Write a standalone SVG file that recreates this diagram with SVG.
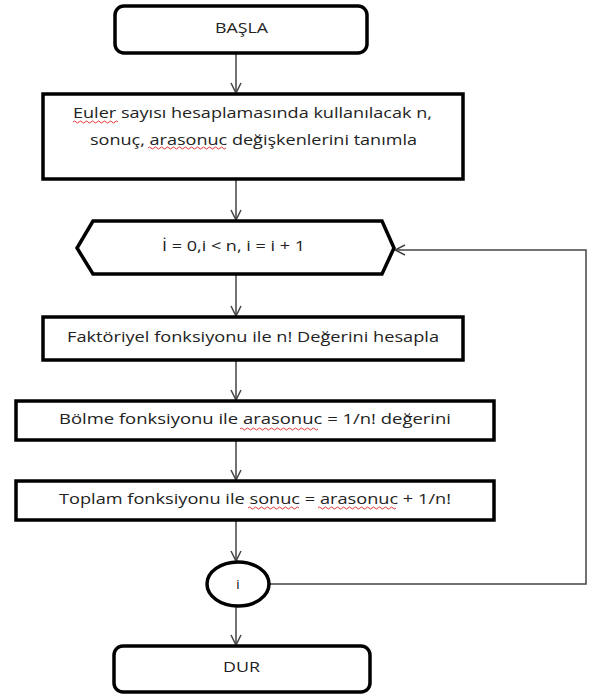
<svg xmlns="http://www.w3.org/2000/svg" width="590" height="695" viewBox="0 0 590 695">
<style>
.box{fill:#fff;stroke:#000;stroke-width:3.5}
.t{font-family:"Open Sans","Noto Sans","Liberation Sans",sans-serif;font-size:15px;fill:#222;text-anchor:middle}
.c{fill:none;stroke:#444;stroke-width:1.5}
.sq{fill:none;stroke:#e02020;stroke-width:0.9}
</style>
<defs>
<marker id="ah" markerWidth="12" markerHeight="12" refX="11" refY="6" orient="auto" markerUnits="userSpaceOnUse">
<path d="M1,1 L11,6 L1,11" fill="none" stroke="#444" stroke-width="1.5"/>
</marker>
</defs>
<rect width="590" height="695" fill="#fff"/>
<g id="connectors">
<line class="c" x1="236" y1="53" x2="236" y2="93" marker-end="url(#ah)"/>
<line class="c" x1="236" y1="180" x2="236" y2="220" marker-end="url(#ah)"/>
<line class="c" x1="236" y1="275" x2="236" y2="316" marker-end="url(#ah)"/>
<line class="c" x1="236" y1="361" x2="236" y2="400" marker-end="url(#ah)"/>
<line class="c" x1="236" y1="441" x2="236" y2="480" marker-end="url(#ah)"/>
<line class="c" x1="236" y1="521" x2="236" y2="561" marker-end="url(#ah)"/>
<line class="c" x1="236" y1="607" x2="236" y2="645" marker-end="url(#ah)"/>
<polyline class="c" points="270,584 586,584 586,250 395,250" marker-end="url(#ah)"/>
</g>
<g id="basla">
<rect class="box" x="115" y="6" width="252" height="47" rx="9"/>
<text class="t" x="241.5" y="33" textLength="53" lengthAdjust="spacingAndGlyphs">BAŞLA</text>
</g>
<g id="tanimla">
<rect class="box" x="43" y="94" width="420" height="85"/>
<text class="t" x="252.5" y="118" textLength="359" lengthAdjust="spacingAndGlyphs">Euler sayısı hesaplamasında kullanılacak n,</text>
<text class="t" x="253.5" y="145" textLength="327" lengthAdjust="spacingAndGlyphs">sonuç, arasonuc değişkenlerini tanımla</text>
<path class="sq" d="M73,122 q1.5,-2 3,0 t3,0 t3,0 t3,0 t3,0 t3,0 t3,0 t3,0 t3,0 t3,0 t3,0 t3,0 t3,0 t3,0 t3,0"/>
<path class="sq" d="M148,148 q1.5,-2 3,0 t3,0 t3,0 t3,0 t3,0 t3,0 t3,0 t3,0 t3,0 t3,0 t3,0 t3,0 t3,0 t3,0 t3,0 t3,0 t3,0 t3,0 t3,0 t3,0 t3,0 t3,0 t3,0 t3,0 t3,0 t3,0"/>
</g>
<g id="dongu">
<polygon class="box" points="93,221 382,221 394,248 382,274 93,274 77,248"/>
<text class="t" x="233.5" y="251" textLength="143" lengthAdjust="spacingAndGlyphs">İ = 0,i &lt; n, i = i + 1</text>
</g>
<g id="faktoriyel">
<rect class="box" x="43" y="317" width="420" height="43"/>
<text class="t" x="253" y="342" textLength="372" lengthAdjust="spacingAndGlyphs">Faktöriyel fonksiyonu ile n! Değerini hesapla</text>
</g>
<g id="bolme">
<rect class="box" x="16" y="401" width="478" height="39"/>
<text class="t" x="255" y="424" textLength="392" lengthAdjust="spacingAndGlyphs">Bölme fonksiyonu ile arasonuc  = 1/n! değerini</text>
<path class="sq" d="M240,429 q1.5,-2 3,0 t3,0 t3,0 t3,0 t3,0 t3,0 t3,0 t3,0 t3,0 t3,0 t3,0 t3,0 t3,0 t3,0 t3,0 t3,0 t3,0 t3,0 t3,0 t3,0 t3,0 t3,0 t3,0 t3,0 t3,0 t3,0"/>
</g>
<g id="toplam">
<rect class="box" x="16" y="481" width="478" height="39"/>
<text class="t" x="255" y="504" textLength="392" lengthAdjust="spacingAndGlyphs">Toplam fonksiyonu ile sonuc = arasonuc + 1/n!</text>
<path class="sq" d="M248,508 q1.5,-2 3,0 t3,0 t3,0 t3,0 t3,0 t3,0 t3,0 t3,0 t3,0 t3,0 t3,0 t3,0 t3,0 t3,0 t3,0 t3,0 t3,0"/>
<path class="sq" d="M318,508 q1.5,-2 3,0 t3,0 t3,0 t3,0 t3,0 t3,0 t3,0 t3,0 t3,0 t3,0 t3,0 t3,0 t3,0 t3,0 t3,0 t3,0 t3,0 t3,0 t3,0 t3,0 t3,0 t3,0 t3,0 t3,0 t3,0 t3,0"/>
</g>
<g id="i">
<ellipse class="box" cx="238" cy="584" rx="31" ry="22"/>
<text class="t" x="238" y="589" style="font-size:13px;fill:#000">i</text>
</g>
<g id="dur">
<rect class="box" x="114" y="646" width="256" height="46" rx="9"/>
<text class="t" x="241.5" y="672" textLength="37" lengthAdjust="spacingAndGlyphs">DUR</text>
</g>
</svg>
